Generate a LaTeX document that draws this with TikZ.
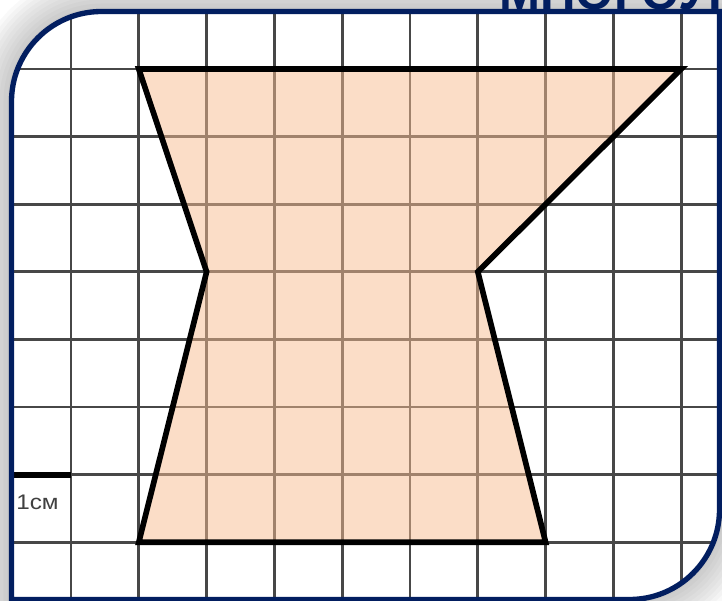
\documentclass[tikz,border=0pt]{standalone}
\usepackage{fontspec}
\setmainfont{Liberation Sans}
\usepackage{xcolor}
\definecolor{framenavy}{RGB}{2,30,96}
\definecolor{peach}{RGB}{249,189,145}
\newcommand\framepath{(11.5,599.5) -- (11.5,101.5) .. controls (11.5,51.8) and (51.8,11.5) .. (101.5,11.5) -- (719.5,11.5) -- (719.5,509.5) .. controls (719.5,559.2) and (679.2,599.5) .. (629.5,599.5) -- cycle}

\begin{document}
\begin{tikzpicture}[
    x=0.03cm, y=-0.03cm,
    gridline/.style={draw=black!72, line width=0.08cm},
    figure/.style={draw=black, line width=0.17cm, fill=peach, fill opacity=0.5},
    unitbar/.style={draw=black, line width=0.18cm},
    frameline/.style={draw=framenavy, line width=0.16cm},
    title/.style={font=\fontsize{42}{42}\selectfont\bfseries, text=framenavy, inner sep=0pt},
    unitlabel/.style={font=\fontsize{18}{18}\selectfont, text=black!75, inner sep=0pt, xscale=1.15}
  ]
  \useasboundingbox (0,0) rectangle (722,601);
  \clip (0,0) rectangle (722,601);

  % soft shadow round the frame
  \foreach \w in {0.24,0.48,0.72,0.96,1.2,1.44,1.68,1.92,2.16,2.4}
    \draw[line width=\w cm, black, draw opacity=0.022] \framepath;

  \node[title, anchor=base west] (title) at (499,10) {МНОГОУГОЛЬНИКИ};

  \fill[white] \framepath;

  \begin{scope}
    \clip \framepath;
    \begin{scope}[shift={(71,69)}, x=2.034cm, y=-2.028cm]
      \foreach \c in {-1,...,9}
        \draw[gridline] (\c,-1.2) -- (\c,8.2);
      \foreach \r in {-1,...,8}
        \draw[gridline] (-1.2,\r) -- (9.7,\r);

      \coordinate (A) at (1,0);
      \coordinate (B) at (9,0);
      \coordinate (C) at (6,3);
      \coordinate (D) at (7,7);
      \coordinate (E) at (1,7);
      \coordinate (F) at (2,3);
      \draw[figure] (A) -- (B) -- (C) -- (D) -- (E) -- (F) -- cycle;

      \coordinate (u0) at (-1,6);
      \coordinate (u1) at (0,6);
      \draw[unitbar] (u0) -- (u1);
    \end{scope}
  \end{scope}

  \node[unitlabel, anchor=base west] (unit) at (16,510) {1см};

  \draw[frameline] \framepath;
\end{tikzpicture}
\end{document}
